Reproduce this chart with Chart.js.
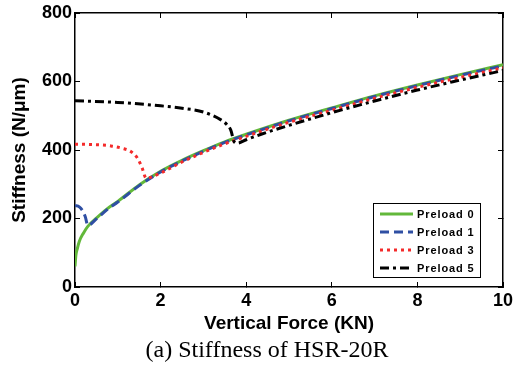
<!DOCTYPE html>
<html>
<head>
<meta charset="utf-8">
<script src="https://cdn.jsdelivr.net/npm/chart.js@4.4.1/dist/chart.umd.min.js"></script>
<style>
  html, body { margin: 0; padding: 0; background: #fff; }
  #wrap { position: relative; width: 521px; height: 367px; }
  #caption {
    position: absolute; left: 0; width: 534px; top: 336px;
    text-align: center; font: 24px "Liberation Serif", "Times New Roman", serif; color: #000;
  }
</style>
</head>
<body>
<div id="wrap">
  <canvas id="chart" width="521" height="367"></canvas>
  <div id="caption">(a) Stiffness of HSR-20R</div>
</div>
<script>
// 曲線資料
const preload0X = [0, 0.02, 0.05, 0.1, 0.2, 0.3, 0.5, 0.75, 1, 1.5, 2, 2.5, 3, 3.5, 4, 5, 6, 7, 8, 9, 10];
const preload0Y = [60, 92, 110, 133, 158, 177, 201, 228, 250, 298, 338, 370, 398, 424, 446, 487, 523, 558, 590, 620, 649];

const preload1X = [0, 0.1, 0.18, 0.24, 0.3, 0.5, 0.75, 1, 1.5, 2, 2.5, 3, 3.5, 4, 5, 6, 7, 8, 9, 10];
const preload1Y = [238, 234, 222, 205, 180, 199, 226, 248, 296, 336, 368, 396, 422, 444, 485, 521, 556, 588, 618, 646];

const preload3X = [0, 0.4, 0.84, 1.1, 1.31, 1.46, 1.57, 1.66, 2, 2.5, 3, 3.5, 4, 5, 6, 7, 8, 9, 10];
const preload3Y = [417, 416, 412, 405, 395, 376, 347, 318, 333, 365, 393, 418, 440, 481, 516, 551, 583, 612, 640];

const preload5X = [0, 1, 2, 2.5, 3, 3.41, 3.55, 3.64, 3.72, 3.79, 4, 4.35, 5, 6, 7, 8, 9, 10];
const preload5Y = [544, 539, 529, 522, 511, 488, 474, 458, 424, 420, 430, 446, 472, 509, 543, 575, 604, 632];

const seriesLabels = ['Preload 0', 'Preload 1', 'Preload 3', 'Preload 5'];
const xTicks = [0, 2, 4, 6, 8, 10];
const yTicks = [0, 200, 400, 600, 800];

const toPoints = (xs, ys) => xs.map((x, i) => ({ x: x, y: ys[i] }));

const tickFont = { family: 'Liberation Sans, Arial, sans-serif', size: 18, weight: 'bold' };
const titleFont = { family: 'Liberation Sans, Arial, sans-serif', size: 19, weight: 'bold' };

// 圖例畫在繪圖區裡面 (右下角)
const boxLegend = {
  id: 'boxLegend',
  afterDraw(chart) {
    const ctx = chart.ctx;
    const left = 373, top = 203, w = 107, h = 74;
    ctx.save();
    ctx.fillStyle = '#fff';
    ctx.fillRect(left, top, w, h);
    ctx.strokeStyle = '#000';
    ctx.lineWidth = 1;
    ctx.strokeRect(left + 0.5, top + 0.5, w, h);
    chart.data.datasets.forEach((ds, i) => {
      const y = 214 + i * 18;
      ctx.beginPath();
      ctx.strokeStyle = ds.borderColor;
      ctx.lineWidth = ds.borderWidth;
      ctx.setLineDash(ds.borderDash || []);
      ctx.moveTo(380, y);
      ctx.lineTo(413, y);
      ctx.stroke();
      ctx.setLineDash([]);
      ctx.fillStyle = '#000';
      ctx.font = 'bold 11px "Liberation Sans", Arial, sans-serif';
      ctx.letterSpacing = '0.9px';
      ctx.textBaseline = 'middle';
      ctx.fillText(ds.label, 417, y + 1);
    });
    ctx.restore();
  }
};

const inwardGrid = { drawOnChartArea: false, tickLength: -5, color: '#000', lineWidth: 1 };
const blackBorder = { display: true, color: '#000', width: 1.5 };
const noPad = s => { s.paddingTop = 0; s.paddingBottom = 0; s.paddingLeft = 0; s.paddingRight = 0; };

new Chart(document.getElementById('chart'), {
  type: 'line',
  data: {
    datasets: [
      { label: seriesLabels[0], data: toPoints(preload0X, preload0Y), borderColor: '#62b83a', borderWidth: 3, order: 3 },
      { label: seriesLabels[1], data: toPoints(preload1X, preload1Y), borderColor: '#2f4fa3', borderWidth: 3, borderDash: [9, 5], order: 2 },
      { label: seriesLabels[2], data: toPoints(preload3X, preload3Y), borderColor: '#f42a2a', borderWidth: 3, borderDash: [3, 4], order: 1 },
      { label: seriesLabels[3], data: toPoints(preload5X, preload5Y), borderColor: '#000000', borderWidth: 3, borderDash: [9, 4, 3, 4], order: 0 }
    ]
  },
  options: {
    responsive: false,
    animation: false,
    layout: { padding: { left: 0, right: 18, top: 13, bottom: 30 } },
    elements: {
      point: { radius: 0 },
      line: { cubicInterpolationMode: 'monotone', fill: false }
    },
    plugins: {
      legend: { display: false },
      tooltip: { enabled: false }
    },
    scales: {
      x: {
        type: 'linear', position: 'bottom', min: 0, max: 10,
        afterBuildTicks: s => { s.ticks = xTicks.map(v => ({ value: v })); },
        afterFit: s => { s.height = 50; noPad(s); },
        ticks: { font: tickFont, color: '#000', padding: 8, maxRotation: 0 },
        grid: inwardGrid, border: blackBorder,
        title: { display: true, text: 'Vertical Force (KN)', font: titleFont, color: '#000', padding: { top: 0, bottom: 2 } }
      },
      y: {
        type: 'linear', position: 'left', min: 0, max: 800,
        afterBuildTicks: s => { s.ticks = yTicks.map(v => ({ value: v })); },
        afterFit: s => { s.width = 75; noPad(s); },
        ticks: { font: tickFont, color: '#000', padding: 8 },
        grid: inwardGrid, border: blackBorder,
        title: { display: true, text: 'Stiffness (N/μm)', font: titleFont, color: '#000', padding: { top: 8, bottom: 0 } }
      },
      x2: {
        type: 'linear', position: 'top', min: 0, max: 10,
        afterBuildTicks: s => { s.ticks = xTicks.map(v => ({ value: v })); },
        afterFit: s => { s.height = 0; noPad(s); },
        ticks: { display: false },
        grid: inwardGrid, border: blackBorder
      },
      y2: {
        type: 'linear', position: 'right', min: 0, max: 800,
        afterBuildTicks: s => { s.ticks = yTicks.map(v => ({ value: v })); },
        afterFit: s => { s.width = 0; noPad(s); },
        ticks: { display: false },
        grid: inwardGrid, border: blackBorder
      }
    }
  },
  plugins: [boxLegend]
});
</script>
</body>
</html>
